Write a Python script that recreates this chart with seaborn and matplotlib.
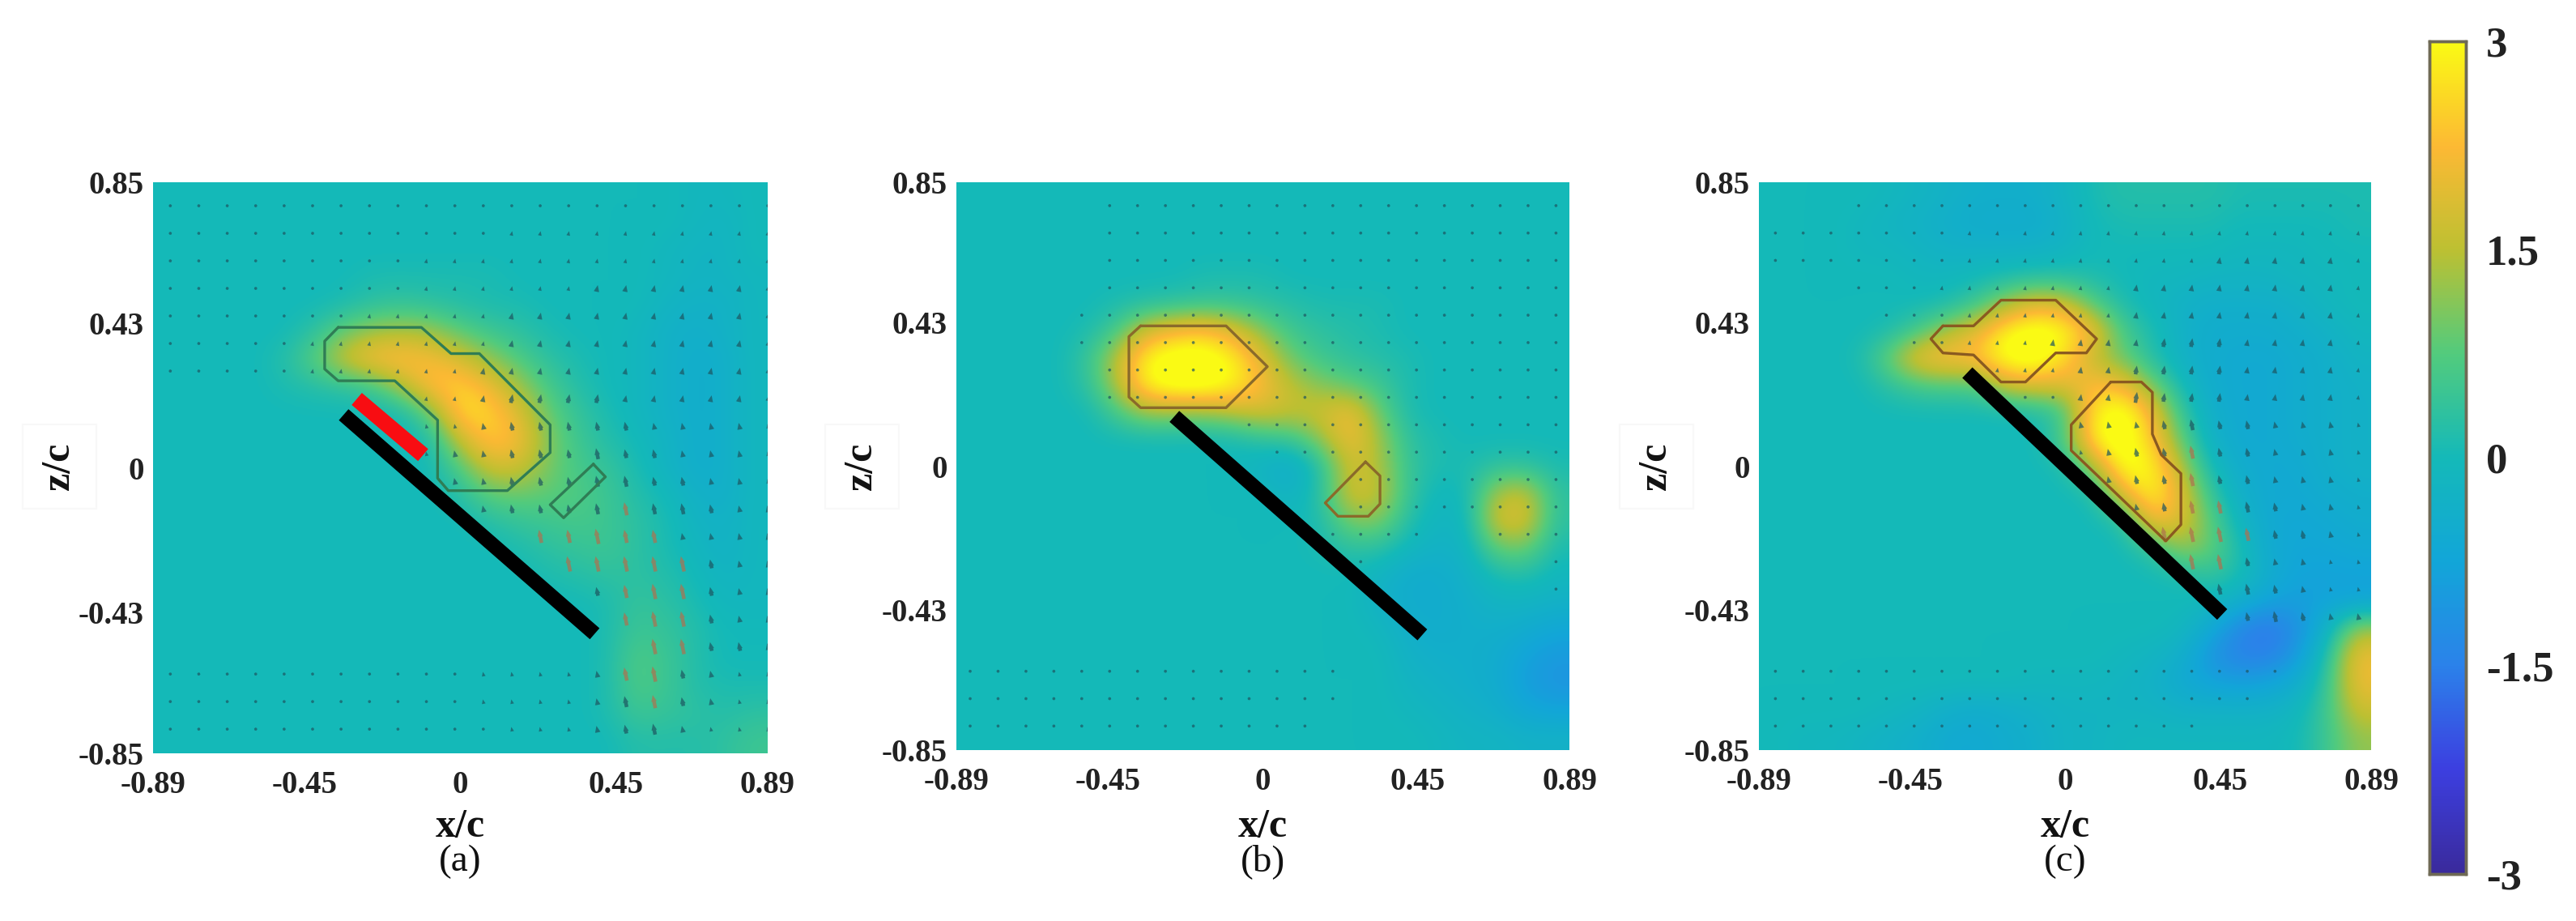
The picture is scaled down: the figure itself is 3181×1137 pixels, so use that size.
"""
Three flow-field panels (a, b, c) with a shared colourbar.
"""

import numpy as np
import matplotlib.pyplot as plt
from matplotlib.colors import LinearSegmentedColormap
import seaborn as sns

sns.set_theme(style='white')
plt.rcParams['font.family'] = ['Liberation Serif', 'DejaVu Serif']

# ------------------------------------------------------------------
# Data
# ------------------------------------------------------------------
X_RANGE = (-0.89, 0.89)
Z_RANGE = (-0.85, 0.85)
x_ticks = [-0.89, -0.45, 0, 0.45, 0.89]
z_ticks = [-0.85, -0.43, 0, 0.43, 0.85]
x_tick_labels = ['-0.89', '-0.45', '0', '0.45', '0.89']
z_tick_labels = ['-0.85', '-0.43', '0', '0.43', '0.85']
cbar_ticks = [-3, -1.5, 0, 1.5, 3]
cbar_labels = ['-3', '-1.5', '0', '1.5', '3']
panel_names = ['(a)', '(b)', '(c)']

# colour stops
colour_stops = ['#3a2a9c', '#3c3fe0', '#2b82ea', '#12a6d8', '#14b9b9',
                '#52cb7d', '#bcc032', '#fcb934', '#fafa14']

# field values, top row first, 21 rows of 21 cells
field_a = [
    [0] * 18 + [-.1, -.1, 0],
    [0] * 18 + [-.1, -.2, 0],
    [0] * 17 + [-.1, -.2, -.2, 0],
    [0] * 7 + [.1, .1, .1, .1, .1, 0, 0, 0, 0, 0, -.1, -.2, -.2, -.1],
    [0, 0, 0, 0, 0, 0, .1, .3, .4, .3, .2, .1, .1, 0, 0, 0, 0, -.2, -.3, -.3, -.1],
    [0, 0, 0, 0, 0, .3, .9, 1.3, 1.4, 1.3, .8, .5, .3, .1, 0, 0, -.1, -.3, -.4, -.3, -.1],
    [0, 0, 0, 0, .2, .8, 1.7, 2.3, 2.4, 2.2, 1.8, 1.2, .7, .3, .1, 0, -.1, -.3, -.45, -.4, -.1],
    [0, 0, 0, 0, .1, .2, .3, .5, 1.4, 2.4, 2.6, 2.1, 1.3, .6, .2, 0, -.1, -.3, -.45, -.4, -.1],
    [0] * 9 + [.9, 2.7, 2.6, 1.9, .9, .4, .1, -.1, -.3, -.45, -.4, -.1],
    [0] * 9 + [.1, 1.6, 2.5, 2.2, 1.1, .5, .2, 0, -.2, -.45, -.4, -.1],
    [0] * 10 + [.7, 1.7, 1.7, 1.0, .6, .4, .1, -.2, -.45, -.4, -.1],
    [0] * 10 + [.2, .8, .9, .8, .7, .5, .2, 0, -.3, -.4, -.1],
    [0] * 11 + [.2, .4, .5, .6, .5, .3, .1, -.2, -.3, -.1],
    [0] * 12 + [.1, .3, .4, .5, .3, .1, -.1, -.3, -.1],
    [0] * 13 + [.1, .2, .3, .3, .2, 0, -.2, -.1],
    [0] * 15 + [.1, .4, .3, .1, -.1, -.1],
    [0] * 15 + [.1, .5, .4, .2, 0, 0],
    [0] * 15 + [.1, .7, .5, .2, 0, 0],
    [0] * 15 + [.1, .7, .5, .2, .1, .1],
    [0] * 15 + [.1, .5, .4, .3, .2, .3],
    [0] * 16 + [.2, .2, .2, .3, .5],
]

field_b = [
    [0] * 21,
    [0] * 21,
    [0] * 21,
    [0] * 8 + [.1, .1, .1] + [0] * 10,
    [0, 0, 0, 0, 0, .1, .2, .3, .4, .4, .3, .2, .1, .1, .1] + [0] * 6,
    [0, 0, 0, 0, .1, .6, 1.8, 2.2, 2.4, 1.9, 1.1, .5, .3, .2, .1] + [0] * 6,
    [0, 0, 0, 0, .4, 1.5, 3, 3.4, 3.4, 2.9, 1.9, .9, .5, .3, .2, .1] + [0] * 5,
    [0, 0, 0, 0, .3, 1.4, 3, 3.4, 3.4, 3, 2.2, 1.5, 1.1, .8, .5, .1] + [0] * 5,
    [0, 0, 0, 0, 0, .6, 1.3, 1.2, 1.2, 1.5, 1.8, 1.6, 1.7, 2.2, .9, .1] + [0] * 5,
    [0] * 10 + [.3, .4, 1.2, 2.2, 1.3, .3, .1, 0, 0, 0, 0],
    [0] * 10 + [-.3, -.5, .2, 1.8, 1.4, .4, .1, .1, .3, .3, .1],
    [0] * 11 + [-.3, .3, 1.8, 1.6, .4, -.1, 0, 1.4, 1.7, .3],
    [0] * 12 + [.1, 1.1, 1.1, .2, -.2, -.1, 1.8, 1.9, .3],
    [0] * 12 + [.1, .3, .3, -.1, -.3, -.2, .9, 1.0, .1],
    [0] * 14 + [-.2, -.5, -.5, -.3, .1, .2, -.1],
    [0] * 14 + [-.3, -.5, -.5, -.4, -.2, -.2, -.3],
    [0] * 14 + [-.1, -.4, -.5, -.4, -.4, -.5, -.7],
    [0] * 14 + [0, -.3, -.4, -.4, -.5, -.8, -1.0],
    [0] * 15 + [-.2, -.3, -.4, -.5, -.9, -1.1],
    [0] * 15 + [-.1, -.2, -.3, -.4, -.7, -.8],
    [0] * 16 + [-.1, -.2, -.2, -.3, -.3],
]

field_c = [
    [0, 0, 0, 0, -.1, -.2, -.3, -.4, -.4, -.4, -.2, .1, .2, .2, .2, .2, .1, .1, .1, .1, .1],
    [0, 0, 0, -.1, -.2, -.3, -.4, -.5, -.5, -.5, -.3, 0, .1, .1, .1, .1, 0, 0, 0, 0, .1],
    [0, 0, 0, -.1, -.1, -.2, -.3, -.3, -.3, -.3, -.2, 0, 0, 0, 0, 0, -.1, -.1, -.1, 0, 0],
    [0, 0, 0, 0, 0, -.1, -.1, 0, .1, .2, .2, .1, 0, -.1, -.1, -.2, -.2, -.2, -.1, -.1, 0],
    [0, 0, 0, 0, 0, 0, .1, .5, 1.3, 1.9, 1.7, .7, .1, -.1, -.3, -.4, -.4, -.4, -.3, -.1, 0],
    [0, 0, 0, 0, .1, .6, 1.4, 2.0, 3, 3.4, 3.1, 2.1, .6, .1, -.3, -.5, -.5, -.5, -.4, -.3, -.1],
    [0, 0, 0, .1, 1.0, 2.2, 2.4, 2.4, 3.3, 3.4, 2.6, 1.5, .9, .2, -.3, -.5, -.6, -.6, -.5, -.4, -.2],
    [0, 0, 0, 0, .3, .6, .7, .7, 1.7, 1.9, 1.9, 2.3, 2.1, 1.0, 0, -.5, -.6, -.6, -.5, -.4, -.3],
    [0] * 9 + [.1, .5, 2.9, 3.4, 2.1, .4, -.4, -.6, -.6, -.5, -.4, -.3],
    [0] * 10 + [.7, 3, 3.4, 2.4, .8, -.3, -.6, -.6, -.5, -.4, -.3],
    [0] * 10 + [.1, 1.3, 3.3, 3, 1.4, 0, -.5, -.6, -.6, -.4, -.3],
    [0] * 11 + [.1, 2.0, 3.1, 1.9, .4, -.4, -.6, -.6, -.5, -.4],
    [0] * 12 + [.2, 2.3, 1.9, .8, -.2, -.6, -.7, -.6, -.5],
    [0] * 13 + [.4, 1.3, .9, .1, -.6, -.7, -.7, -.6],
    [0] * 14 + [.1, .4, .1, -.5, -.8, -.8, -.8],
    [0] * 15 + [-.1, -.4, -.8, -.9, -.8, -.8],
    [0] * 14 + [-.1, -.6, -1.4, -1.7, -1.2, -.3, 1.3],
    [0] * 12 + [-.1, -.2, -.4, -1.1, -1.5, -1.5, -1.0, .2, 2.1],
    [0] * 9 + [-.1, -.1, -.1, -.2, -.3, -.6, -.8, -.9, -.8, -.5, .4, 2.1],
    [0, 0, 0, 0, -.1, -.2, -.4, -.5, -.4, -.3, -.2, -.2, -.2, -.2, -.3, -.3, -.3, -.3, -.1, .5, 1.7],
    [0, -.1, -.1, -.2, -.3, -.4, -.6, -.6, -.5, -.4, -.2, -.2, -.1, -.1, -.1, -.1, -.1, -.1, 0, .5, 1.2],
]

# arrow magnitudes per row (digit = length class, 0 = no arrow)
arrows_a = [
    '1111111111111111111111', '1111111111112222222222', '1111111112222222222222',
    '1111111112222223333332', '1111111222223333333332', '1111122222223333333332',
    '1111122222233333333332', '0000000002234444333332', '0000000002234444433332',
    '0000000002334445443332', '0000000000334445544332', '0000000000034445655433',
    '0000000000000667663333', '0000000000000077777433', '0000000000000004677433',
    '0000000000000000677433', '0000000000000000077443', '1111111111122223674322',
    '1111111111122223564322', '1111111111112223453222',
]
arrows_b = [
    '0000011111111111111111', '0000011111111111111111', '0000011111111111111111',
    '0000011111111111111111', '0000111111111111111111', '0000111111111111111111',
    '0000011111111111111111', '0000011111111111111111', '0000000000111111111111',
    '0000000000011111111111', '0000000000000011111111', '0000000000000011111111',
    '0000000000000111100111', '0000000000000010000001', '0000000000000000000001',
    '0000000000000000000000', '0000000000000000000000', '1111111111111100000000',
    '1111111111111100000000', '1111111111111000000000', '1111111111111111111111',
]
arrows_c = [
    '0001111111111111111111', '1111111222222222222222', '1111111222222222333332',
    '0001112222222333333332', '0000111222222333333332', '0000011222333344433332',
    '0000000022233444433332', '0000000011133544433332', '0000000000033345443332',
    '0000000000023446443332', '0000000000003446443332', '0000000000000346654332',
    '0000000000000077764432', '0000000000000007743322', '0000000000000000554322',
    '0000000000000000045433', '0000000000000000000000', '1111111111111111111000',
    '1111111111111111110000', '1111111111111111000000', '1111111111111111111111',
]
arrow_x0 = [-0.84, -0.85, -0.842]
arrow_dx = [0.0824, 0.081, 0.0807]
arrow_z0 = 0.78
arrow_dz = 0.082

# plate end points (x, z)
plate_a = [(-0.338, 0.158), (0.389, -0.494)]
plate_b = [(-0.257, 0.149), (0.463, -0.505)]
plate_c = [(-0.284, 0.280), (0.457, -0.444)]
red_strip_a = [(-0.300, 0.205), (-0.108, 0.038)]

# outlined regions (x, z)
outlines_a = [
    [(-.354, .418), (-.113, .418), (-.027, .340), (.055, .340), (.260, .128), (.260, .045),
     (.136, -.068), (-.035, -.068), (-.066, -.031), (-.066, .142), (-.190, .259),
     (-.354, .259), (-.393, .294), (-.393, .377), (-.354, .418)],
    [(.385, .011), (.420, -.027), (.299, -.149), (.260, -.110), (.385, .011)],
]
outlines_b = [
    [(-.355, .420), (-.107, .420), (.013, .298), (-.107, .175), (-.355, .175),
     (-.389, .207), (-.389, .388), (-.355, .420)],
    [(.298, .013), (.340, -.029), (.340, -.113), (.306, -.150), (.218, -.150),
     (.181, -.110), (.298, .013)],
]
outlines_c = [
    [(-.355, .420), (-.266, .420), (-.186, .497), (-.027, .497), (.092, .381), (.062, .339),
     (-.027, .339), (-.115, .252), (-.186, .252), (-.266, .333), (-.355, .339),
     (-.390, .381), (-.355, .420)],
    [(.133, .252), (.222, .252), (.254, .221), (.254, .096), (.280, .034), (.337, -.022),
     (.337, -.175), (.293, -.224), (.018, .047), (.018, .124), (.133, .252)],
]

fields = [field_a, field_b, field_c]
arrow_sets = [arrows_a, arrows_b, arrows_c]
plates = [plate_a, plate_b, plate_c]
outline_sets = [outlines_a, outlines_b, outlines_c]
outline_colours = ['#2f7d55', '#8a6a2a', '#8a5a20']
arrow_tilts = [0.2, 0.9, 0.15]

# pixel boxes of the axes: left, top, right, bottom
panel_boxes = [(189, 225, 948, 930), (1181, 225, 1938, 926), (2172, 225, 2928, 926)]
zlabel_x = [73, 1064, 2045]
cbar_box = (3000, 51, 3045, 1079)

W, H = 3181, 1137
parula = LinearSegmentedColormap.from_list('parula_like', colour_stops)


def px_axes(fig, box):
    left, top, right, bottom = box
    return fig.add_axes([left / W, 1 - bottom / H, (right - left) / W, (bottom - top) / H])


fig = plt.figure(figsize=(W / 100, H / 100), dpi=100, facecolor='white')
cax = px_axes(fig, cbar_box)

for k, box in enumerate(panel_boxes):
    ax = px_axes(fig, box)
    grid = np.array(fields[k], dtype=float)
    nrows, ncols = grid.shape

    # seaborn lays out the axes in cell units, imshow smooths the same cells
    sns.heatmap(grid, ax=ax, cmap=parula, vmin=-3, vmax=3, cbar=(k == 0),
                cbar_ax=cax if k == 0 else None, xticklabels=False, yticklabels=False)
    ax.imshow(grid, cmap=parula, vmin=-3, vmax=3, extent=(0, ncols, nrows, 0),
              interpolation='bicubic', aspect='auto', zorder=1.5)

    def to_col(x):
        return (np.asarray(x) - X_RANGE[0]) / (X_RANGE[1] - X_RANGE[0]) * ncols

    def to_row(z):
        return (Z_RANGE[1] - np.asarray(z)) / (Z_RANGE[1] - Z_RANGE[0]) * nrows

    ax.set_xlim(0, ncols)
    ax.set_ylim(nrows, 0)

    # velocity arrows
    ax_x, ax_z, ax_u, ax_v, ax_c = [], [], [], [], []
    for j, row in enumerate(arrow_sets[k]):
        for i, ch in enumerate(row):
            mag = int(ch)
            if mag == 0:
                continue
            ax_x.append(arrow_x0[k] + i * arrow_dx[k])
            ax_z.append(arrow_z0 - j * arrow_dz)
            tilt = arrow_tilts[k] if j < 8 else -0.2
            ax_u.append(mag * 0.0065 * tilt)
            ax_v.append(-mag * 0.0065)
            ax_c.append('#b0704e' if mag >= 6 else '#1d5560')
    # u, v in cell units so that the arrows scale with the axes
    ax.quiver(to_col(ax_x), to_row(ax_z),
              np.array(ax_u) / (X_RANGE[1] - X_RANGE[0]) * ncols,
              np.array(ax_v) / (Z_RANGE[1] - Z_RANGE[0]) * nrows,
              color=ax_c, angles='xy', scale_units='xy', scale=1, pivot='mid',
              units='dots', width=4.5, headwidth=1.5, headlength=1.8, headaxislength=1.8,
              minlength=0.9, alpha=0.7, zorder=3)

    # outlined regions
    for poly in outline_sets[k]:
        px, pz = zip(*poly)
        ax.plot(to_col(px), to_row(pz), color=outline_colours[k], lw=2.4, zorder=4)

    # plate
    px, pz = zip(*plates[k])
    ax.plot(to_col(px), to_row(pz), color='black', lw=13, solid_capstyle='butt', zorder=5)
    if k == 0:
        px, pz = zip(*red_strip_a)
        ax.plot(to_col(px), to_row(pz), color='#f80d12', lw=14, solid_capstyle='butt', zorder=5)

    # ticks and labels
    ax.set_xticks(to_col(x_ticks))
    ax.set_xticklabels(x_tick_labels, fontsize=28, fontweight='bold', color='#222222')
    ax.set_yticks(to_row(z_ticks))
    ax.set_yticklabels(z_tick_labels, fontsize=28, fontweight='bold', color='#222222')
    ax.tick_params(axis='x', length=0, pad=15, bottom=True)
    ax.tick_params(axis='y', length=0, pad=8, left=True)
    for side in ax.spines.values():
        side.set_visible(False)

    height = box[3] - box[1]
    width = box[2] - box[0]
    ax.text(0.5, (box[3] - 1021) / height, 'x/c', transform=ax.transAxes, ha='center',
            va='center', fontsize=36, fontweight='bold', color='#111111')
    ax.text(0.5, (box[3] - 1064) / height, panel_names[k], transform=ax.transAxes, ha='center',
            va='center', fontsize=34, color='#111111')
    ax.text((zlabel_x[k] - box[0]) / width, (box[3] - 576) / height, 'z/c', transform=ax.transAxes,
            rotation=90, ha='center', va='center', fontsize=36, fontweight='bold', color='#111111',
            bbox=dict(boxstyle='square,pad=0.45', facecolor='white', edgecolor='#f8f8f8', lw=1.5))

# colourbar
cax.set_yticks(cbar_ticks)
cax.set_yticklabels(cbar_labels, fontsize=38, fontweight='bold', color='#222222')
cax.tick_params(axis='y', direction='in', length=8, width=1.5, color='#333333', pad=18, right=True)
for side in cax.spines.values():
    side.set_visible(True)
    side.set_color('#6f6a55')
    side.set_linewidth(2.5)

fig.savefig('out.png', dpi=100, facecolor='white')
plt.close(fig)
